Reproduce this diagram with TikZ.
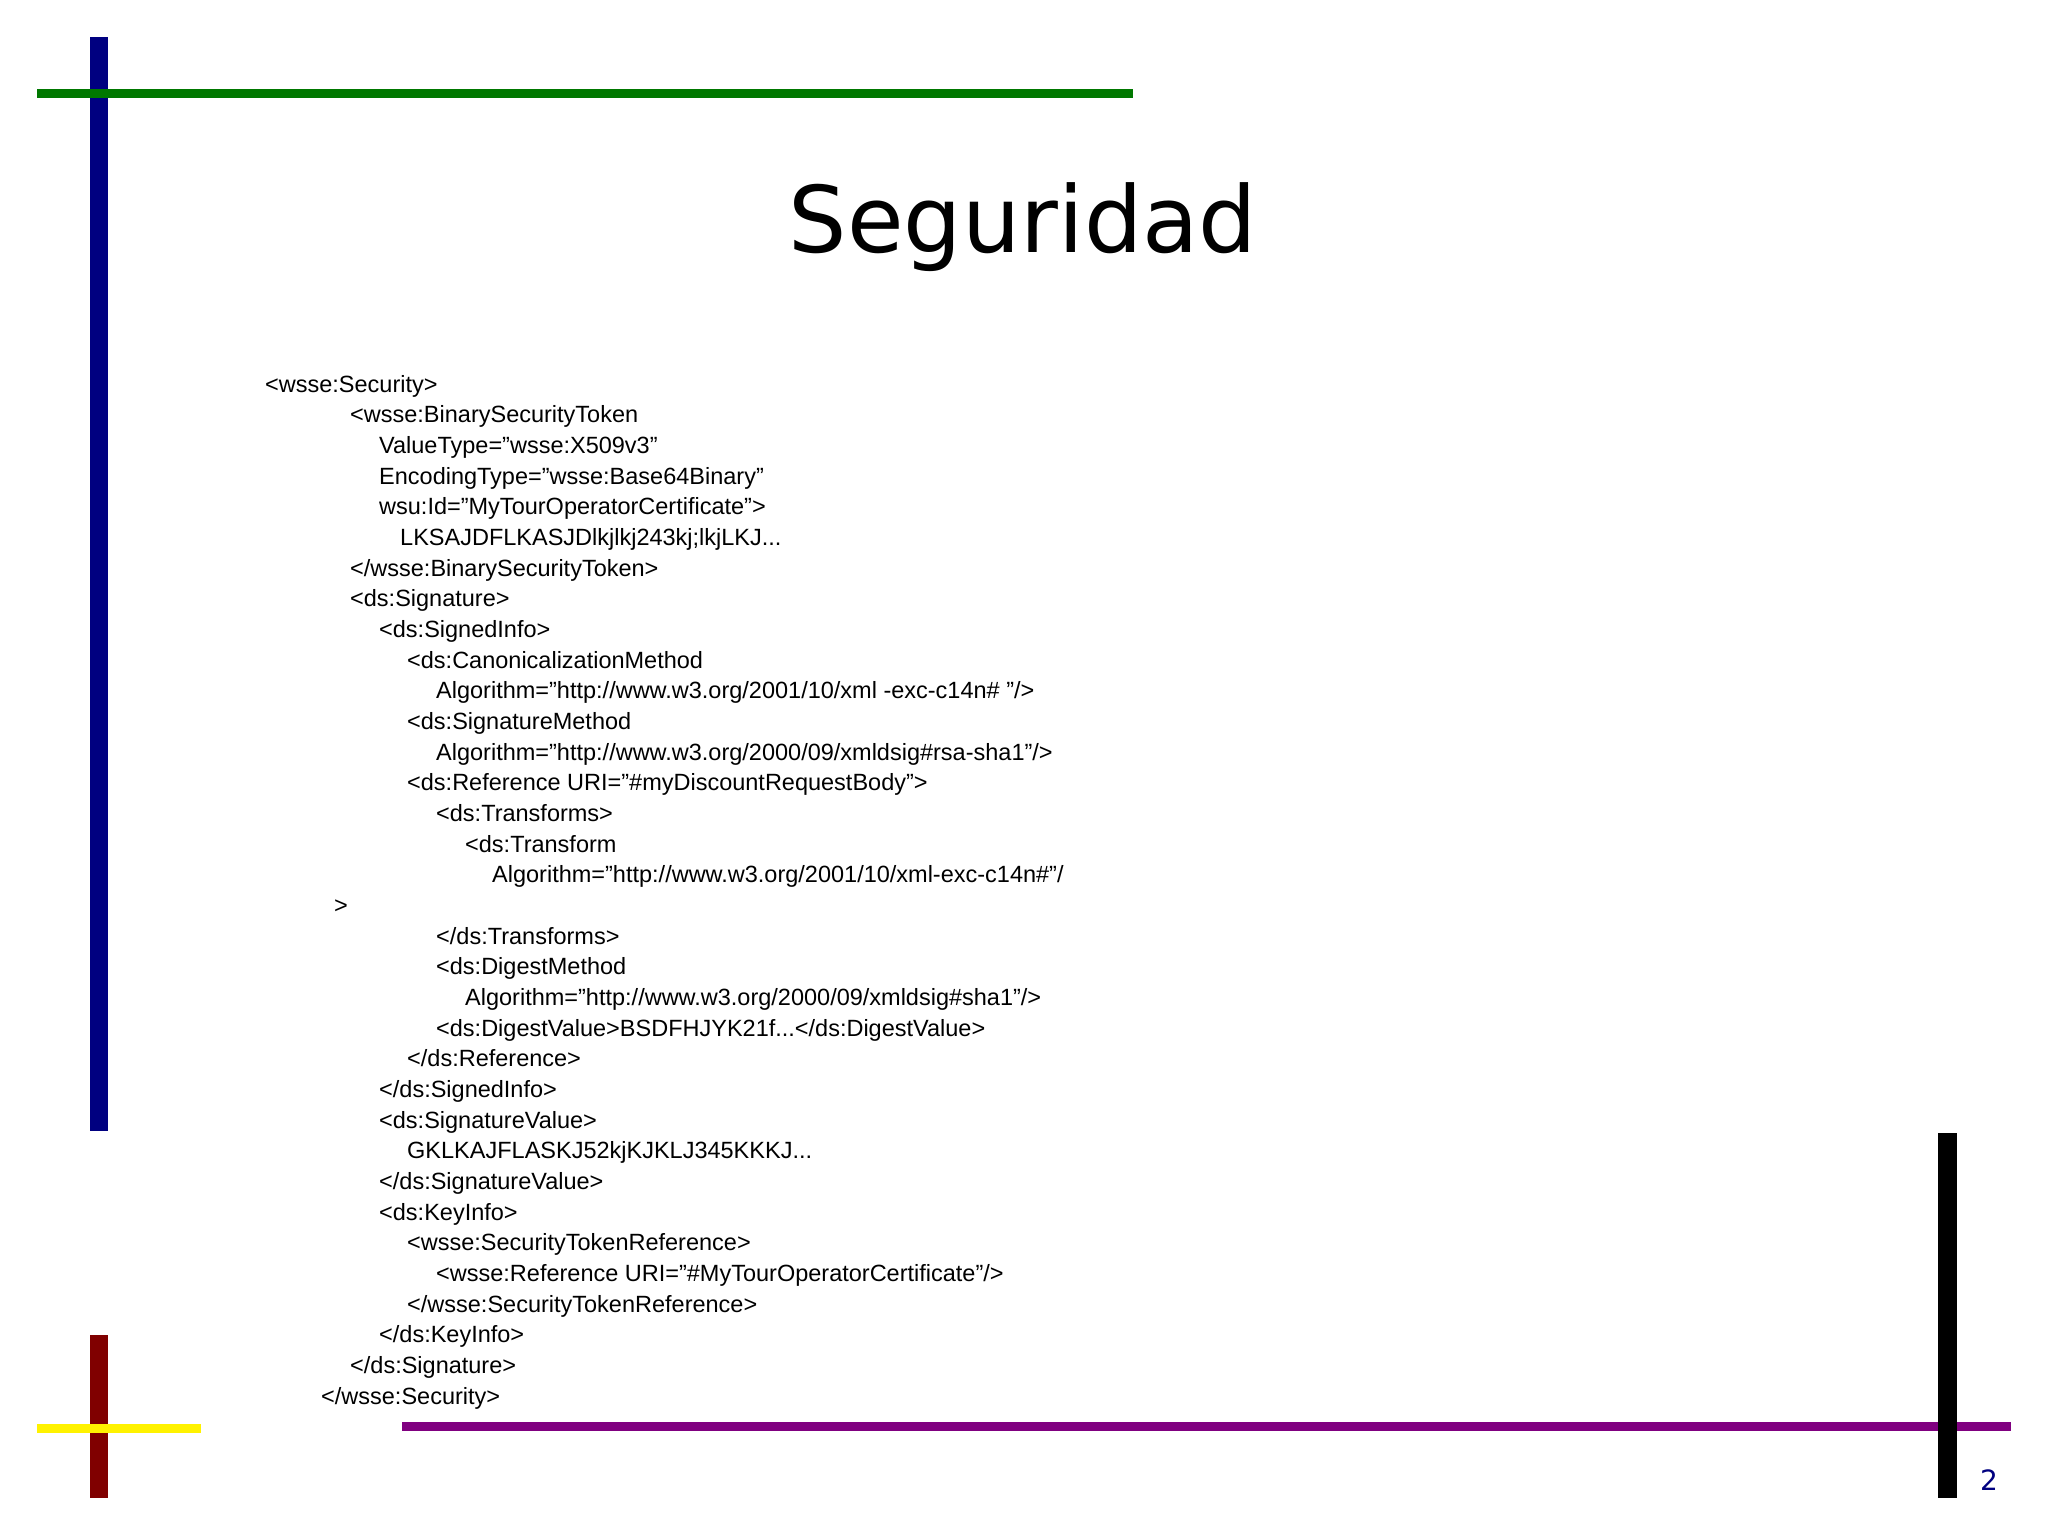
\documentclass[tikz,border=0pt]{standalone}
\usepackage{fontspec}
\setmainfont{Liberation Sans}
\newfontfamily\titlefont{DejaVu Sans}
\definecolor{barblue}{RGB}{0,0,128}
\definecolor{bargreen}{RGB}{0,120,0}
\definecolor{barred}{RGB}{128,0,0}
\definecolor{barpurple}{RGB}{128,0,128}
\begin{document}
\begin{tikzpicture}[x=1pt,y=-1pt,
  code/.style={anchor=base west,inner sep=0pt,font=\fontsize{23.5}{28}\selectfont}]
\useasboundingbox (0,0) rectangle (2048,1535);
\fill[white] (0,0) rectangle (2048,1535);
\fill[barblue] (90,37) rectangle (108,1131);
\fill[bargreen] (37,89) rectangle (1133,98);
\fill[barred] (90,1335) rectangle (108,1498);
\fill[yellow] (37,1424) rectangle (201,1433);
\fill[barpurple] (402,1422) rectangle (2011,1431);
\fill[black] (1938,1133) rectangle (1957,1498);
\node[anchor=base,inner sep=0pt,font=\titlefont\fontsize{92}{100}\selectfont] (title) at (1023,252) {Seguridad};
\node[anchor=base west,inner sep=0pt,text=barblue,font=\titlefont\fontsize{28}{30}\selectfont] (pg) at (1980,1490) {2};
\def\ls{30.67}
\node[code] (l1) at (265,392+0*\ls) {<wsse:Security>};
\node[code] (l2) at (350,392+1*\ls) {<wsse:BinarySecurityToken};
\node[code] (l3) at (379,392+2*\ls) {ValueType="wsse:X509v3"};
\node[code] (l4) at (379,392+3*\ls) {EncodingType="wsse:Base64Binary"};
\node[code] (l5) at (379,392+4*\ls) {wsu:Id="MyTourOperatorCertificate">};
\node[code] (l6) at (400,392+5*\ls) {LKSAJDFLKASJDlkjlkj243kj;lkjLKJ...};
\node[code] (l7) at (350,392+6*\ls) {</wsse:BinarySecurityToken>};
\node[code] (l8) at (350,392+7*\ls) {<ds:Signature>};
\node[code] (l9) at (379,392+8*\ls) {<ds:SignedInfo>};
\node[code] (l10) at (407,392+9*\ls) {<ds:CanonicalizationMethod};
\node[code] (l11) at (436,392+10*\ls) {Algorithm="http://www.w3.org/2001/10/xml -exc-c14n\# "/>};
\node[code] (l12) at (407,392+11*\ls) {<ds:SignatureMethod};
\node[code] (l13) at (436,392+12*\ls) {Algorithm="http://www.w3.org/2000/09/xmldsig\#rsa-sha1"/>};
\node[code] (l14) at (407,392+13*\ls) {<ds:Reference URI="\#myDiscountRequestBody">};
\node[code] (l15) at (436,392+14*\ls) {<ds:Transforms>};
\node[code] (l16) at (465,392+15*\ls) {<ds:Transform};
\node[code] (l17) at (492,392+16*\ls) {Algorithm="http://www.w3.org/2001/10/xml-exc-c14n\#"/};
\node[code] (l18) at (334,392+17*\ls) {>};
\node[code] (l19) at (436,392+18*\ls) {</ds:Transforms>};
\node[code] (l20) at (436,392+19*\ls) {<ds:DigestMethod};
\node[code] (l21) at (465,392+20*\ls) {Algorithm="http://www.w3.org/2000/09/xmldsig\#sha1"/>};
\node[code] (l22) at (436,392+21*\ls) {<ds:DigestValue>BSDFHJYK21f...</ds:DigestValue>};
\node[code] (l23) at (407,392+22*\ls) {</ds:Reference>};
\node[code] (l24) at (379,392+23*\ls) {</ds:SignedInfo>};
\node[code] (l25) at (379,392+24*\ls) {<ds:SignatureValue>};
\node[code] (l26) at (407,392+25*\ls) {GKLKAJFLASKJ52kjKJKLJ345KKKJ...};
\node[code] (l27) at (379,392+26*\ls) {</ds:SignatureValue>};
\node[code] (l28) at (379,392+27*\ls) {<ds:KeyInfo>};
\node[code] (l29) at (407,392+28*\ls) {<wsse:SecurityTokenReference>};
\node[code] (l30) at (436,392+29*\ls) {<wsse:Reference URI="\#MyTourOperatorCertificate"/>};
\node[code] (l31) at (407,392+30*\ls) {</wsse:SecurityTokenReference>};
\node[code] (l32) at (379,392+31*\ls) {</ds:KeyInfo>};
\node[code] (l33) at (350,392+32*\ls) {</ds:Signature>};
\node[code] (l34) at (321,392+33*\ls) {</wsse:Security>};
\end{tikzpicture}
\end{document}
